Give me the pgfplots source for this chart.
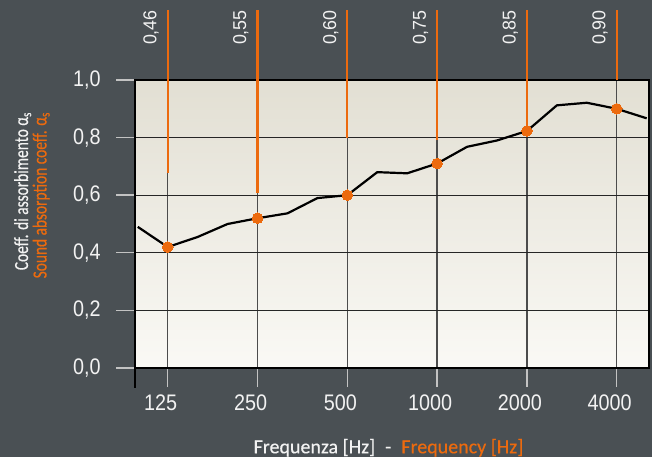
\documentclass[border=0pt]{standalone}
\usepackage{pgfplots}
\pgfplotsset{compat=1.18}
\usepackage{fontspec}
\setmainfont[FakeBold=0.35]{Carlito}
\newfontfamily\ylfont[FakeStretch=0.77,FakeBold=0.4]{Carlito}
\newfontfamily\condfont[FakeStretch=0.88]{Liberation Sans}
\newfontfamily\topfont[FakeStretch=0.96]{Liberation Sans}
\definecolor{bg}{RGB}{74,80,84}
\definecolor{org}{RGB}{236,106,14}
\definecolor{ptop}{RGB}{226,223,211}
\definecolor{pbot}{RGB}{250,249,245}
\definecolor{tk}{RGB}{195,195,195}
\definecolor{lbl}{RGB}{242,242,242}
\tikzset{toplbl/.style={rotate=90, anchor=base east, inner sep=0pt, text=lbl,
    font=\topfont\fontsize{18.6}{18.6}\selectfont}}
\begin{document}
\begin{tikzpicture}[x=1pt,y=1pt]
\fill[bg] (0,0) rectangle (652,457);
\begin{axis}[
  at={(135pt,89pt)}, anchor=south west,
  scale only axis, width=513.7pt, height=288pt,
  xmode=log, log basis x=2,
  xmin=97.1, xmax=5120, ymin=0, ymax=1,
  axis background/.style={top color=ptop, bottom color=pbot},
  xtick={125,250,500,1000,2000,4000},
  xticklabels={125,250,500,1000,2000,4000},
  ytick={0,0.2,0.4,0.6,0.8,1},
  yticklabels={{0,0},{0,2},{0,4},{0,6},{0,8},{1,0}},
  xtick pos=bottom, ytick pos=left,
  tick align=outside, major tick length=19pt,
  tick style={tk, line width=1.4pt},
  ymajorgrids, xmajorgrids,
  y grid style={black!85, line width=1.3pt},
  x grid style={black!70, line width=1.5pt},
  axis line style={black, line width=1.6pt},
  ticklabel style={font=\condfont\fontsize{22.5}{22.5}\selectfont, text=lbl},
  yticklabel style={xshift=-12pt},
  xticklabel style={xshift=-7pt, yshift=-4pt},
  clip=false,
]
% third-octave curve
\addplot[color=black, line width=2.2pt, line join=round] coordinates {
 (99.2,0.49) (125,0.42) (157.5,0.455) (198.4,0.50) (250,0.52) (315,0.537)
 (396.9,0.59) (500,0.60) (630,0.68) (793.7,0.676) (1000,0.71) (1259.9,0.768)
 (1587.4,0.79) (2000,0.823) (2519.8,0.912) (3174.8,0.921) (4000,0.90) (5039.7,0.867)};
% orange upper parts of the octave lines
\addplot[color=org, line width=2.2pt] coordinates {(125,0.677) (125,1.243)};
\addplot[color=org, line width=2.2pt] coordinates {(250,0.607) (250,1.243)};
\addplot[color=org, line width=2.2pt] coordinates {(500,0.80) (500,1.243)};
\addplot[color=org, line width=2.2pt] coordinates {(1000,0.79) (1000,1.243)};
\addplot[color=org, line width=2.2pt] coordinates {(2000,0.823) (2000,1.243)};
\addplot[color=org, line width=2.2pt] coordinates {(4000,1.0) (4000,1.243)};
% octave values
\addplot[color=org, only marks, mark=*, mark size=5.3pt, mark options={fill=org, draw=org, line width=0pt}] coordinates {
 (125,0.42) (250,0.52) (500,0.60) (1000,0.71) (2000,0.823) (4000,0.90)};
\draw[black, line width=1.6pt] (axis cs:97.1,0) -- ++(0pt,-20pt);
\node[toplbl] at ([xshift=-11.3pt]axis cs:125,1.243) {0,46};
\node[toplbl] at ([xshift=-11.3pt]axis cs:250,1.243) {0,55};
\node[toplbl] at ([xshift=-11.3pt]axis cs:500,1.243) {0,60};
\node[toplbl] at ([xshift=-11.3pt]axis cs:1000,1.243) {0,75};
\node[toplbl] at ([xshift=-11.3pt]axis cs:2000,1.243) {0,85};
\node[toplbl] at ([xshift=-11.3pt]axis cs:4000,1.243) {0,90};
\end{axis}
\node[rotate=90, anchor=base east, inner sep=0pt, text=lbl, font=\ylfont\fontsize{20}{20}\selectfont]
  at (28,345) {Coeff. di assorbimento α\textsubscript{s}};
\node[rotate=90, anchor=base east, inner sep=0pt, text=org, font=\ylfont\fontsize{20}{20}\selectfont]
  at (46.5,345) {Sound absorption coeff. α\textsubscript{s}};
\node[anchor=base, inner sep=0pt, text=lbl, font=\fontsize{20}{20}\selectfont]
  at (388.5,3.7) {Frequenza [Hz]\hspace{10pt}-\hspace{10pt}\textcolor{org}{Frequency [Hz]}};
\pgfresetboundingbox
\useasboundingbox (0,0) rectangle (652,457);
\end{tikzpicture}
\end{document}
